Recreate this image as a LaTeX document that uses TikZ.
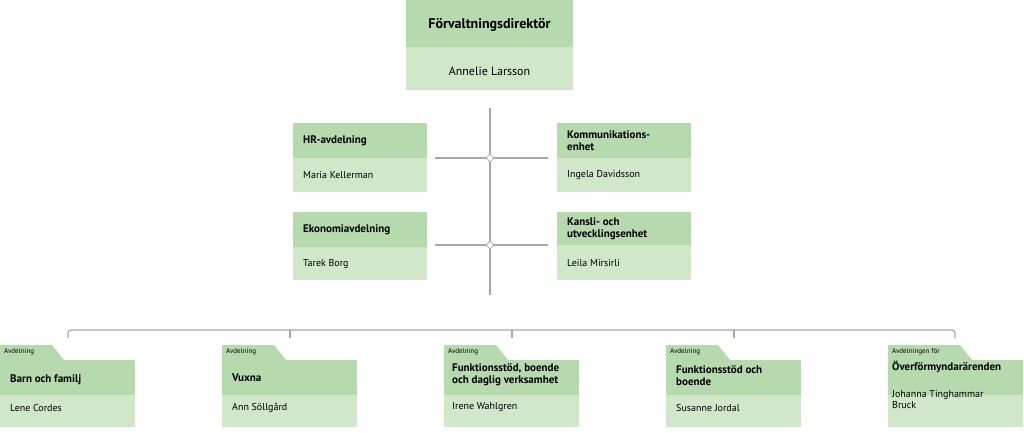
\documentclass[tikz,border=0pt]{standalone}
\usepackage{fontspec}
\setmainfont{PT Sans}
\definecolor{hd}{HTML}{B6D9AE}
\definecolor{lt}{HTML}{D0E8C9}
\definecolor{ln}{HTML}{A8A8A8}
\tikzset{
 hdr/.style={fill=hd,draw=none,anchor=north west,inner sep=0pt},
 low/.style={fill=lt,draw=none},
 ttl/.style={anchor=west,font=\bfseries\fontsize{11}{12}\selectfont,align=left,inner sep=0pt},
 nam/.style={anchor=west,font=\fontsize{10}{11}\selectfont,align=left,inner sep=0pt},
 tabt/.style={anchor=west,font=\fontsize{7}{8}\selectfont,inner sep=0pt},
 conn/.style={draw=ln,line width=1.2pt},
 dia/.style={draw=ln,fill=white,diamond,line width=0.8pt,minimum size=8pt,inner sep=0pt}
}
\usetikzlibrary{shapes.geometric}
\begin{document}
\begin{tikzpicture}[x=1pt,y=-1pt]
\useasboundingbox (0,0) rectangle (1024,432);
% top
\fill[lt] (406,47) rectangle (573,90);
\fill[hd] (406,0) rectangle (573,47);
\node[font=\bfseries\fontsize{14}{16}\selectfont,inner sep=0pt] (dir) at (489.5,25) {Förvaltningsdirektör};
\node[font=\fontsize{12}{14}\selectfont,inner sep=0pt] (al) at (489.5,71) {Annelie Larsson};
% staff
\newcommand\staffbox[6]{%
 \fill[lt] (#1,#3) rectangle (#1+134,#4);
 \fill[hd] (#1,#2) rectangle (#1+134,#3);
 \node[ttl] (#6t) at (#1+10,{(#2+#3)/2}) {#5};
}
\staffbox{293}{123}{158}{192}{HR-avdelning}{hr}
\node[nam] (hrn) at (303,175) {Maria Kellerman};
\staffbox{557}{123}{158}{192}{Kommunikations-\\enhet}{ko}
\node[nam] (kon) at (567,175) {Ingela Davidsson};
\staffbox{293}{212}{247}{280}{Ekonomiavdelning}{ek}
\node[nam] (ekn) at (303,264) {Tarek Borg};
\staffbox{557}{212}{245}{280}{Kansli- och\\utvecklingsenhet}{ka}
\node[nam] (kan) at (567,263) {Leila Mirsirli};
\coordinate (vt) at (490,108); \coordinate (vb) at (490,295);
\draw[conn] (vt) -- (vb);
\coordinate (l1) at (435,158); \coordinate (r1) at (548,158);
\coordinate (l2) at (435,245); \coordinate (r2) at (548,245);
\draw[conn] (l1) -- (r1); \draw[conn] (l2) -- (r2);
\node[dia] (d1) at (490,158) {};
\node[dia] (d2) at (490,245) {};
% bottom bus
\coordinate (b1) at (68,338); \coordinate (b5) at (955,338);
\draw[conn,rounded corners=3pt] (b1) -- (68,330) -- (955,330) -- (b5);
\foreach \x in {290,512,734} \draw[conn] (\x,330) -- (\x,338);
% bottom boxes
\newcommand\deptbox[4]{% x, tabwidth, tab text, name
 \fill[hd] (#1,360) -- (#1,345) -- (#1+#2,345) -- (#1+#2+12,360) -- cycle;
 \fill[lt] (#1,395) rectangle (#1+135,427);
 \fill[hd] (#1,360) rectangle (#1+135,395);
 \node[tabt] (#4tab) at (#1+4,352) {#3};
}
\deptbox{0}{52}{Avdelning}{a}
\node[ttl] (at) at (10,380) {Barn och familj};
\node[nam] (an) at (10,408) {Lene Cordes};
\deptbox{222}{52}{Avdelning}{b}
\node[ttl] (bt) at (232,378) {Vuxna};
\node[nam] (bn) at (232,408) {Ann Söllgård};
\deptbox{444}{52}{Avdelning}{c}
\node[ttl] (ct) at (452,375) {Funktionsstöd, boende\\och daglig verksamhet};
\node[nam] (cn) at (452,407) {Irene Wahlgren};
\deptbox{666}{52}{Avdelning}{d}
\node[ttl] (dt) at (676,376) {Funktionsstöd och\\boende};
\node[nam] (dn) at (676,408) {Susanne Jordal};
\deptbox{888}{72}{Avdelningen för}{e}
\node[ttl] (et) at (892,367) {Överförmyndarärenden};
\node[nam] (en) at (892,400) {Johanna Tinghammar\\Bruck};
\end{tikzpicture}
\end{document}
